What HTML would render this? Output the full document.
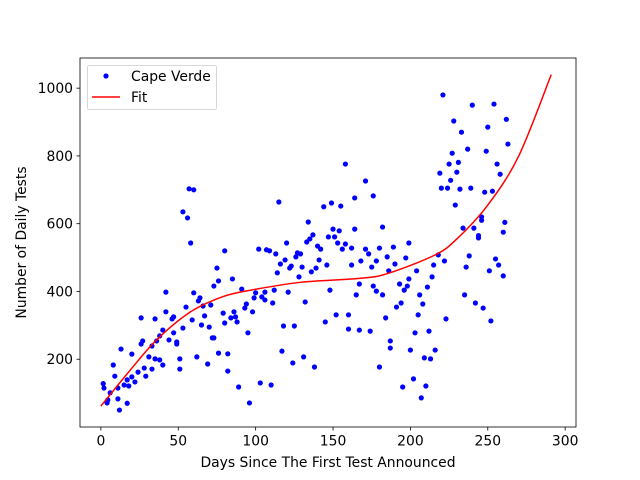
<!DOCTYPE html>
<html><head><meta charset="utf-8"><style>
html,body{margin:0;padding:0;background:#fff;}
svg{display:block;font-family:"DejaVu Sans","Liberation Sans",sans-serif;}
</style></head>
<body>
<svg id="chart" width="640" height="480" viewBox="0 0 640 480">
<rect width="640" height="480" fill="#fff"/>
<g id="marks"></g>
<g id="axes"></g>
<text x="328" y="467" font-size="13.9" text-anchor="middle">Days Since The First Test Announced</text>
<text transform="translate(26,242.5) rotate(-90)" font-size="13.9" text-anchor="middle">Number of Daily Tests</text>
<g>
<rect x="87.5" y="65.5" width="129" height="44" rx="2" fill="#fff" fill-opacity="0.8" stroke="#ccc" stroke-width="0.8"/>
<circle cx="106" cy="76" r="2.6" fill="#0000ff"/>
<text x="131" y="81" font-size="13.9">Cape Verde</text>
<line x1="92" x2="120" y1="97" y2="97" stroke="#ff0000" stroke-width="1.5"/>
<text x="131" y="102" font-size="13.9">Fit</text>
</g>
</svg>
<script>
const days = [
1.5,2,4,4.5,6,8,9,11,11,12,13,15,17,17,18,20,20,22,24,26,
26,27,28,29,31,33,33,35,35,36,38,38,40,40,42,42,44,46,47,47,
49,49,51,51,53,53,55,56,57,58,59,60,60,62,63,64,65,66,67,69,
70,71,72,73,73,75,76,76,79,80,80,82,82,84,85,86,87,88,89,91,
93,94,95,96,98,99,100,102,103,104,106,106,107,109,110,111,112,113,114,115,
116,117,118,119,120,121,122,123,124,125,126,127,128,129,130,131,132,133,134,135,
136,137,138,139,140,141,142,144,145,146,147,148,149,150,151,152,153,154,155,156,
158,158,160,160,162,162,164,164,165,167,167,168,171,171,173,174,175,176,176,178,
178,180,180,182,182,184,185,186,187,187,189,190,191,193,194,195,196,197,198,199,
199,200,221,240,254,228,233,250,262,263,227,237,249,225,231,256,219,230,258,226,
220,224,232,239,248,253,229,246,246,261,260,234,241,244,244,218,222,238,236,255,
257,251,260,215,204,214,211,206,208,205,235,242,247,252,223,212,203,216,209,213,
202,210,207];
const values = [
128,115,71,80,101,183,150,115,83,50,230,124,139,70,121,148,215,133,162,322,
245,254,174,150,207,239,171,201,319,254,269,198,183,286,398,340,257,319,325,278,
251,245,171,201,292,635,354,617,703,543,316,700,396,207,372,381,301,357,328,186,
295,360,263,263,416,469,218,431,336,307,520,216,165,322,437,340,325,310,118,407,
351,363,278,71,340,381,396,525,130,384,375,398,523,520,124,366,404,511,455,664,
481,224,298,493,543,398,469,475,189,298,502,514,443,511,472,207,369,546,605,555,
458,567,177,469,534,493,525,650,310,478,561,404,661,584,561,331,543,579,652,525,
776,540,289,331,478,528,676,584,390,286,422,490,726,525,511,283,472,416,682,490,
401,528,177,590,390,322,502,461,233,254,531,481,354,422,366,118,404,499,416,543,
437,227,980,950,953,903,870,885,908,835,808,820,814,776,781,776,749,752,746,728,
705,705,702,705,693,696,655,620,610,604,575,587,587,558,565,508,490,505,472,496,
478,461,446,478,461,443,413,390,363,331,390,366,351,313,319,283,278,227,204,201,
142,121,86];
const fitDays = [0,19,36,58,79,97,129,168,186,216,230,250,270,291];
const fitValues = [62,168,257,340,385,404,427,439,454,508,555,655,800,1040];
const xTicks = [0,50,100,150,200,250,300];
const yTicks = [200,400,600,800,1000];

const L=80,R=576,T=58,B=427, X0=-13.5, X1=307, Y0=0, Y1=1089;
const sx = d => L + (d - X0) * (R - L) / (X1 - X0);
const sy = v => B - (v - Y0) * (B - T) / (Y1 - Y0);
const NS="http://www.w3.org/2000/svg";
const marks=document.getElementById('marks'), axes=document.getElementById('axes');
function mk(tag, attrs, parent){const e=document.createElementNS(NS,tag);for(const k in attrs)e.setAttribute(k,attrs[k]);parent.appendChild(e);return e;}

const n=Math.min(days.length,values.length);
for(let i=0;i<n;i++){
  const c=mk('circle',{cx:sx(days[i]),cy:sy(values[i]),r:2.6,fill:'#0000ff'},marks);
  
  
}
const P=fitDays.map((d,i)=>[sx(d),sy(fitValues[i])]);
let dstr='M'+P[0][0].toFixed(2)+','+P[0][1].toFixed(2);
for(let i=0;i<P.length-1;i++){
  const p0=P[Math.max(0,i-1)],p1=P[i],p2=P[i+1],p3=P[Math.min(P.length-1,i+2)];
  const c1=[p1[0]+(p2[0]-p0[0])/6,p1[1]+(p2[1]-p0[1])/6];
  const c2=[p2[0]-(p3[0]-p1[0])/6,p2[1]-(p3[1]-p1[1])/6];
  dstr+=' C'+c1.map(v=>v.toFixed(2)).join(',')+' '+c2.map(v=>v.toFixed(2)).join(',')+' '+p2.map(v=>v.toFixed(2)).join(',');
}
const fl=mk('path',{d:dstr,fill:'none',stroke:'#ff0000','stroke-width':1.5},marks);



const frame=mk('rect',{x:L,y:T,width:R-L,height:B-T,fill:'none',stroke:'#000','stroke-width':0.8},axes);


xTicks.forEach(t=>{
  const x=sx(t);
  mk('line',{x1:x,x2:x,y1:B,y2:B+3.5,stroke:'#000','stroke-width':0.8},axes);
  const tx=mk('text',{x:x,y:B+18.5,'font-size':13.9,'text-anchor':'middle',fill:'#000'},axes);
  tx.textContent=t;
  
  
});
yTicks.forEach(t=>{
  const y=sy(t);
  mk('line',{x1:L-3.5,x2:L,y1:y,y2:y,stroke:'#000','stroke-width':0.8},axes);
  const tx=mk('text',{x:L-7,y:y+5,'font-size':13.9,'text-anchor':'end',fill:'#000'},axes);
  tx.textContent=t;
  
  
});
</script>
</body></html>
